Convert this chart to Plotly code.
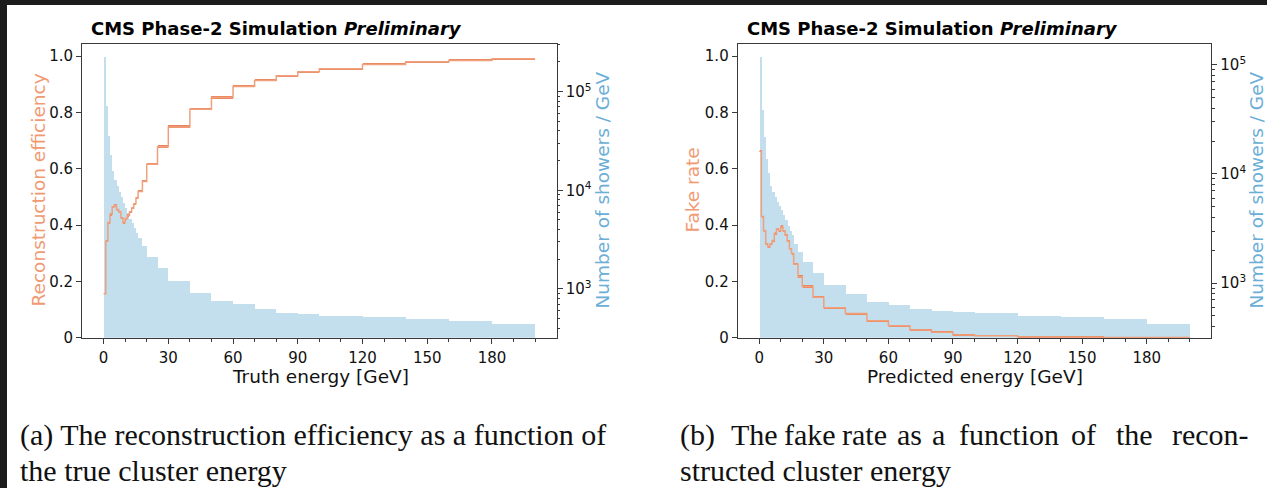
import plotly.graph_objects as go

W, H = 1267, 497

# ---------------- data ----------------
bin_edges = [0, 1, 2, 3, 4, 5, 6, 7, 8, 9, 10, 11, 12, 13, 14, 15, 16, 18, 20,
             25, 30, 40, 50, 60, 70, 80, 90, 100, 120, 140, 160, 180, 200]

truth_counts = [2.23e5, 7.1e4, 3.56e4, 2.25e4, 1.56e4, 1.27e4, 1.09e4, 9.5e3, 8.5e3,
                7.4e3, 6.6e3, 5.8e3, 5.15e3, 4.6e3, 4.1e3, 3.7e3, 3.26e3, 2.72e3,
                2.11e3, 1.64e3, 1210, 912, 753, 698, 618, 568, 554, 533, 521, 495, 470, 442]
efficiency = [0.156, 0.343, 0.409, 0.438, 0.465, 0.470, 0.455, 0.447, 0.426, 0.409,
              0.423, 0.434, 0.447, 0.461, 0.476, 0.496, 0.519, 0.555, 0.616, 0.678,
              0.748, 0.811, 0.853, 0.892, 0.913, 0.930, 0.944, 0.955, 0.970, 0.980,
              0.984, 0.990]
efficiency_err = [0.001, 0.002, 0.003, 0.003, 0.003, 0.003, 0.003, 0.003, 0.003, 0.003,
                  0.003, 0.003, 0.003, 0.003, 0.003, 0.003, 0.004, 0.004, 0.004, 0.004,
                  0.005, 0.005, 0.005, 0.004, 0.004, 0.003, 0.003, 0.002, 0.002, 0.002,
                  0.002, 0.002]

pred_counts = [1.17e5, 3.88e4, 2.19e4, 1.38e4, 1.01e4, 7.8e3, 6.8e3, 6.1e3, 5.53e3,
               5.06e3, 4.66e3, 4.2e3, 3.79e3, 3.34e3, 3.02e3, 2.72e3, 2.29e3, 1.9e3,
               1.55e3, 1.22e3, 966, 785, 675, 629, 575, 556, 545, 526, 501, 491, 468, 416]
fake_rate = [0.662, 0.430, 0.380, 0.333, 0.322, 0.333, 0.345, 0.370, 0.386, 0.380,
             0.395, 0.380, 0.365, 0.343, 0.316, 0.299, 0.261, 0.217, 0.182, 0.144,
             0.107, 0.086, 0.060, 0.043, 0.028, 0.020, 0.010, 0.007, 0.003, 0.002,
             0.001, 0.001]
fake_rate_err = [0.002, 0.003, 0.003, 0.003, 0.003, 0.003, 0.003, 0.003, 0.003, 0.003,
                 0.003, 0.003, 0.003, 0.003, 0.003, 0.003, 0.005, 0.005, 0.005, 0.004,
                 0.003, 0.003, 0.003, 0.003, 0.002, 0.002, 0.002, 0.001, 0.001, 0.001,
                 0.001, 0.001]

x_ticks = [0, 30, 60, 90, 120, 150, 180]
x_minor = [10, 20, 40, 50, 70, 80, 100, 110, 130, 140, 160, 170, 190, 200]
rate_ticks = [0, 0.2, 0.4, 0.6, 0.8, 1.0]
rate_labels = ["0", "0.2", "0.4", "0.6", "0.8", "1.0"]
count_ticks = [1e3, 1e4, 1e5]
count_labels = ["10<sup>3</sup>", "10<sup>4</sup>", "10<sup>5</sup>"]
count_minor = [m * d for d in (100, 1000, 10000, 100000) for m in range(2, 10)]

title_main = "CMS Phase-2 Simulation"
title_ital = "Preliminary"
caption_a = ["(a) The reconstruction efficiency as a function of", "the true cluster energy"]
caption_b_words = ["(b)", "The", "fake", "rate", "as", "a", "function", "of", "the", "recon-"]
caption_b_line2 = "structed cluster energy"

# ---------------- style ----------------
ORANGE = "#e8845c"
ORANGE_LIGHT = "#f0a07c"
ORANGE_LABEL = "#f09a74"
BLUE_FILL = "#c3deec"
BLUE_LABEL = "#6baed6"
AXIS = "#3a3a3a"
FONT = "DejaVu Sans"

centers = [(a + b) / 2 for a, b in zip(bin_edges[:-1], bin_edges[1:])]
widths = [b - a for a, b in zip(bin_edges[:-1], bin_edges[1:])]

fig = go.Figure()


def add_panel(counts, rate, err, xa, ya_log, ya_lin):
    fig.add_trace(go.Bar(x=centers, y=counts, width=widths, marker=dict(color=BLUE_FILL, line=dict(width=0)),
                         xaxis=xa, yaxis=ya_log, showlegend=False, hoverinfo="skip"))
    fig.add_trace(go.Scatter(x=bin_edges, y=list(rate) + [rate[-1]], mode="lines",
                             line=dict(shape="hv", color=ORANGE_LIGHT, width=1.5),
                             xaxis=xa, yaxis=ya_lin, showlegend=False, hoverinfo="skip"))
    fig.add_trace(go.Bar(x=centers, y=[2 * e for e in err], base=[r - e for r, e in zip(rate, err)],
                         width=widths, marker=dict(color=ORANGE, line=dict(width=0)),
                         xaxis=xa, yaxis=ya_lin, showlegend=False, hoverinfo="skip"))


add_panel(truth_counts, efficiency, efficiency_err, "x", "y", "y2")
add_panel(pred_counts, fake_rate, fake_rate_err, "x2", "y3", "y4")

ytop, ybot = 45, 344
ydom = [1 - ybot / H, 1 - ytop / H]
panels = [
    dict(x0=82, x1=556.7, logrange=[2.505, 5.481]),
    dict(x0=737.7, x1=1211.3, logrange=[2.499, 5.189]),
]

tickfont = dict(family=FONT, size=15, color="#111")
common = dict(ticks="outside", ticklen=5, tickwidth=1, tickcolor=AXIS, showline=True,
              linecolor=AXIS, linewidth=1, showgrid=False, zeroline=False, tickfont=tickfont)

layout = dict(width=W, height=H, margin=dict(l=0, r=0, t=0, b=0),
              paper_bgcolor="white", plot_bgcolor="white", barmode="overlay", bargap=0,
              showlegend=False, font=dict(family=FONT))

for i, p in enumerate(panels):
    xname = "xaxis" if i == 0 else "xaxis2"
    ylog = "yaxis" if i == 0 else "yaxis3"
    ylin = "yaxis2" if i == 0 else "yaxis4"
    xid = "x" if i == 0 else "x2"
    ylogid = "y" if i == 0 else "y3"
    layout[xname] = dict(domain=[p["x0"] / W, p["x1"] / W], range=[-10, 210], anchor=ylogid,
                         tickvals=x_ticks, mirror=True, ticklabelstandoff=1,
                         minor=dict(tickvals=x_minor, ticks="outside", ticklen=3, tickcolor=AXIS),
                         **common)
    layout[ylog] = dict(domain=ydom, type="log", range=p["logrange"], side="right", anchor=xid,
                        tickvals=count_ticks, ticktext=count_labels,
                        minor=dict(tickvals=count_minor, ticks="outside", ticklen=2.5, tickcolor=AXIS),
                        **common)
    layout[ylin] = dict(domain=ydom, range=[0, 1.042], side="left", overlaying=ylogid, anchor=xid,
                        tickvals=rate_ticks, ticktext=rate_labels, **common)

fig.update_layout(**layout)


def px(x):
    return x / W


def py(y):
    return 1 - y / H


def note(x, y, text, font, xanchor="center", angle=0):
    return dict(x=px(x), y=py(y), xref="paper", yref="paper", xanchor=xanchor, yanchor="middle",
                text=text, showarrow=False, textangle=angle, font=font)


ann = []
for p in panels:
    ann.append(note(p["x0"] + 7, 29, "<b>" + title_main + " <i>" + title_ital + "</i></b>",
                    dict(family=FONT, size=18, color="black"), xanchor="left"))
axfont = dict(family=FONT, size=18.5, color="#111")
ann.append(note(320, 383, "Truth energy [GeV]", axfont))
ann.append(note(975, 383, "Predicted energy [GeV]", axfont))
ann.append(note(38, 194, "Reconstruction efficiency", dict(family=FONT, size=18.5, color=ORANGE_LABEL), angle=-90))
ann.append(note(692, 194, "Fake rate", dict(family=FONT, size=18.5, color=ORANGE_LABEL), angle=-90))
ann.append(note(602, 194, "Number of showers / GeV", dict(family=FONT, size=18.5, color=BLUE_LABEL), angle=-90))
ann.append(note(1256, 194, "Number of showers / GeV", dict(family=FONT, size=18.5, color=BLUE_LABEL), angle=-90))

capfont = dict(family="Liberation Serif", size=30, color="#111")
ann.append(note(18, 443, caption_a[0], capfont, xanchor="left"))
ann.append(note(18, 479, caption_a[1], capfont, xanchor="left"))
word_x = [678, 729, 782, 840, 895, 930, 957, 1069, 1114, 1170]
for wx, wd in zip(word_x, caption_b_words):
    ann.append(note(wx, 443, wd, capfont, xanchor="left"))
ann.append(note(678, 479, caption_b_line2, capfont, xanchor="left"))

fig.update_layout(annotations=ann)

# dark screenshot frame (top and left edges)
fig.update_layout(shapes=[
    dict(type="rect", xref="paper", yref="paper", x0=0, x1=1, y0=py(5), y1=1, fillcolor="#1c1c1c",
         line=dict(width=0), layer="above"),
    dict(type="rect", xref="paper", yref="paper", x0=0, x1=px(7), y0=0, y1=1, fillcolor="#1c1c1c",
         line=dict(width=0), layer="above"),
])

fig.write_html("out.html")
